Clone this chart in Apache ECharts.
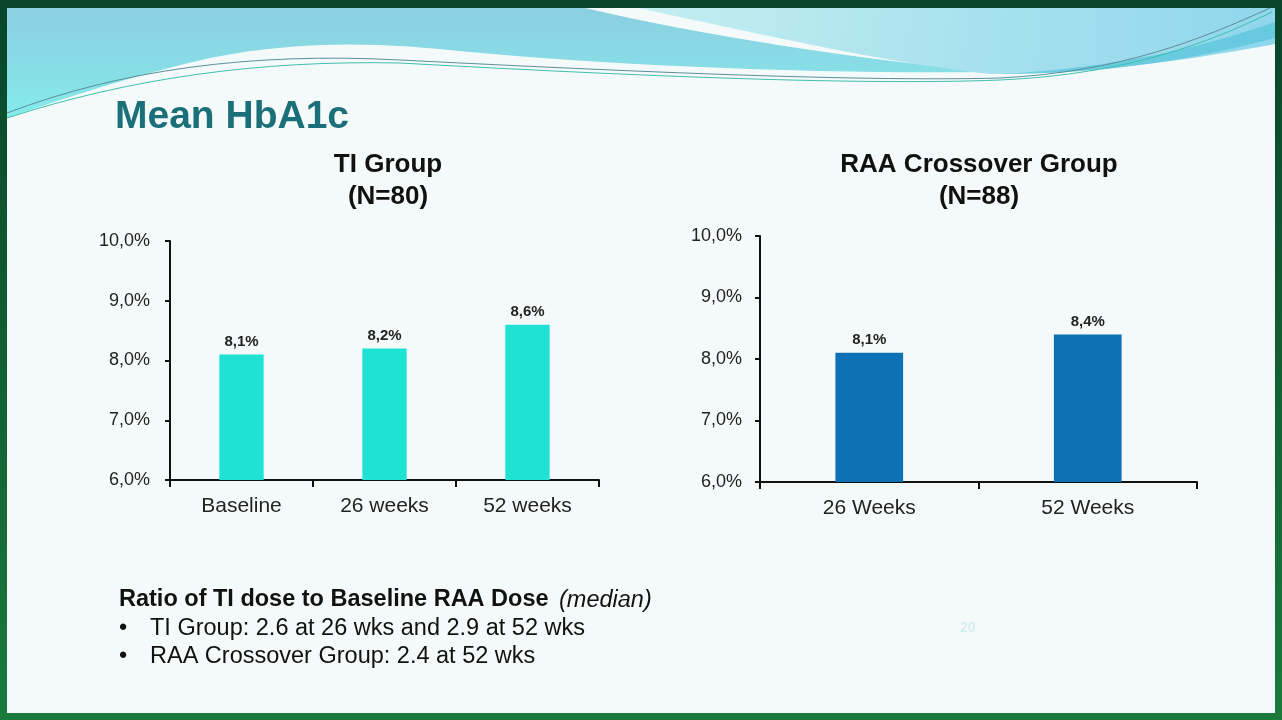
<!DOCTYPE html>
<html><head><meta charset="utf-8">
<script src="https://cdn.jsdelivr.net/npm/echarts@6/dist/echarts.min.js"></script>
<style>html,body{margin:0;padding:0;background:#f4fbfb;}#c{width:1282px;height:720px;}</style>
</head><body><div id="c"></div>
<script>
// ---- data ----
const tiCategories = ['Baseline', '26 weeks', '52 weeks'];
const tiValues = [8.1, 8.2, 8.6];
const raaCategories = ['26 Weeks', '52 Weeks'];
const raaValues = [8.1, 8.4];
const yTicks = [6, 7, 8, 9, 10];

const sans = "'Liberation Sans',Arial,sans-serif";
const fmt = v => v.toFixed(1).replace('.', ',') + '%';

const chart = echarts.init(document.getElementById('c'));

function yAxis(gi, margin) {
  return {
    type: 'value', gridIndex: gi, min: yTicks[0], max: yTicks[yTicks.length - 1], interval: 1,
    axisLine: {show: true, lineStyle: {color: '#111', width: 2}},
    axisTick: {show: true, length: 5, lineStyle: {color: '#111', width: 2}},
    splitLine: {show: false},
    axisLabel: {formatter: fmt, fontFamily: sans, fontSize: 18, color: '#222', margin: margin}
  };
}
function xAxis(gi, cats) {
  return {
    type: 'category', gridIndex: gi, data: cats,
    axisLine: {show: true, lineStyle: {color: '#111', width: 2}},
    axisTick: {show: true, length: 7, lineStyle: {color: '#111', width: 2}},
    axisLabel: {fontFamily: sans, fontSize: 21, color: '#222', margin: 16}
  };
}
function barSeries(gi, vals, color) {
  return {
    type: 'bar', xAxisIndex: gi, yAxisIndex: gi, data: vals, barWidth: '31%', z: 3,
    itemStyle: {color: color},
    label: {show: true, position: 'top', distance: 5, formatter: p => fmt(p.value),
      fontFamily: sans, fontWeight: 'bold', fontSize: 15, color: '#222'}
  };
}

// decorative slide background (frame + header wave)
const decoSeries = {
  type: 'custom', coordinateSystem: 'none', silent: true, z: -10, data: [0],
  renderItem: function () {
    const G = echarts.graphic;
    return {
      type: 'group', children: [
        {type: 'rect', shape: {x: 0, y: 0, width: 1282, height: 720},
          style: {fill: new G.LinearGradient(0, 0, 0, 1, [{offset: 0, color: '#08452a'}, {offset: 1, color: '#1a7a3c'}])}},
        {type: 'rect', shape: {x: 7, y: 8, width: 1268, height: 705}, style: {fill: '#f4fafa'}},
        {type: 'path', shape: {pathData: 'M7,8 L585,8 C700,35 850,58 990,72 C820,74 620,66 470,52 C380,42 300,40 210,58 C130,76 60,100 7,118 Z'},
          style: {fill: new G.LinearGradient(0, 0, 0, 1, [{offset: 0, color: '#8ccfe0'}, {offset: 1, color: '#84eaea'}])}},
        {type: 'path', shape: {pathData: 'M638,8 L1275,8 L1275,44 C1200,58 1100,74 990,74 C880,62 770,36 638,8 Z'},
          style: {fill: new G.LinearGradient(0, 0, 1, 1, [{offset: 0, color: '#c4eef0'}, {offset: 1, color: '#8fd6ec'}])}},
        {type: 'path', shape: {pathData: 'M1000,74 C1120,68 1210,45 1275,22 L1275,38 C1200,58 1110,74 1000,74 Z'},
          style: {fill: '#5cc7dc', opacity: 0.8}},
        {type: 'path', shape: {pathData: 'M7,113 C120,70 250,52 400,60 C600,70 850,82 1000,78 C1120,72 1200,40 1270,8'},
          style: {fill: 'none', stroke: '#5a8f9a', lineWidth: 1}},
        {type: 'path', shape: {pathData: 'M7,118 C130,78 260,60 400,63 C600,74 850,86 1000,80 C1130,74 1210,42 1272,12'},
          style: {fill: 'none', stroke: '#3fbfae', lineWidth: 1}}
      ]
    };
  }
};

function txt(x, y, text, size, weight, align, color) {
  return {type: 'text', x: x, y: y, silent: true,
    style: {text: text, fontFamily: sans, fontSize: size, fontWeight: weight || 'normal',
      fill: color || '#111', align: align || 'left', verticalAlign: 'middle'}};
}

chart.setOption({
  animation: false,
  backgroundColor: '#f4fafa',
  grid: [
    {left: 170, top: 241, width: 429, height: 239},
    {left: 760, top: 236, width: 437, height: 246}
  ],
  xAxis: [xAxis(0, tiCategories), xAxis(1, raaCategories)],
  yAxis: [yAxis(0, 20), yAxis(1, 18)],
  series: [decoSeries, barSeries(0, tiValues, '#1fe2d5'), barSeries(1, raaValues, '#0e71b6')],
  graphic: [
    txt(115, 117, 'Mean HbA1c', 39, 'bold', 'left', '#1a6f79'),
    txt(388, 165, 'TI Group', 26, 'bold', 'center'),
    txt(388, 197, '(N=80)', 26, 'bold', 'center'),
    txt(979, 165, 'RAA Crossover Group', 26, 'bold', 'center'),
    txt(979, 197, '(N=88)', 26, 'bold', 'center'),
    txt(119, 600, 'Ratio of TI dose to Baseline RAA Dose', 23.5, 'bold'),
    {type: 'text', x: 559, y: 600, silent: true,
      style: {text: '(median)', fontFamily: sans, fontStyle: 'italic', fontSize: 23.5, fill: '#111', verticalAlign: 'middle'}},
    txt(119, 629, '•', 23.5),
    txt(150, 629, 'TI Group: 2.6 at 26 wks and 2.9 at 52 wks', 23.5),
    txt(119, 657, '•', 23.5),
    txt(150, 657, 'RAA Crossover Group: 2.4 at 52 wks', 23.5),
    txt(960, 628, '20', 14, 'bold', 'left', '#d6eef2')
  ]
});
</script></body></html>
